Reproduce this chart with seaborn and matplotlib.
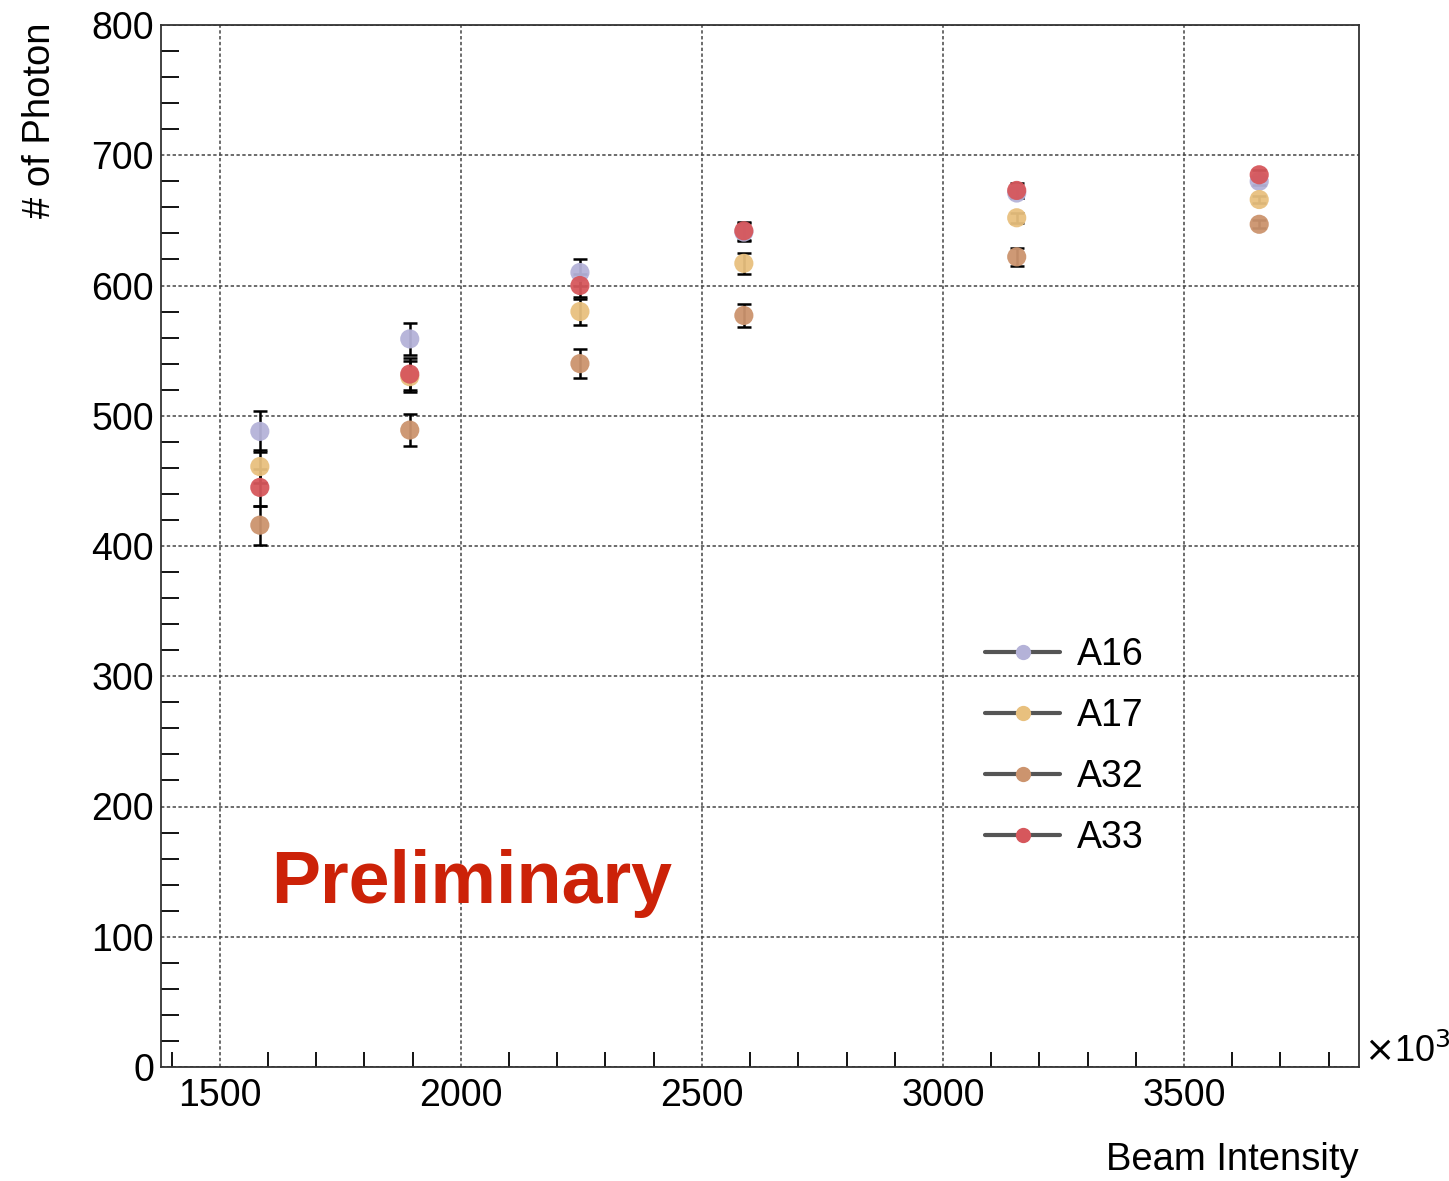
import numpy as np
import pandas as pd
import matplotlib
matplotlib.use("Agg")
import matplotlib.pyplot as plt
from matplotlib.lines import Line2D
from matplotlib.ticker import MultipleLocator
import seaborn as sns

# Beam intensity (x10^3) and mean photon counts per channel
intensity = [1583, 1894, 2247, 2587, 3153, 3656]
channels = ["A16", "A17", "A32", "A33"]
a16 = [488, 559, 610, 641, 671, 680]
a17 = [461, 530, 580, 617, 652, 666]
a32 = [416, 489, 540, 577, 622, 647]
a33 = [445, 532, 600, 642, 673, 685]
a16_err = [16, 12, 10, 7, 4, 3]
a17_err = [13, 12, 10, 8, 4, 3]
a32_err = [15, 12, 11, 9, 7, 3]
a33_err = [14, 12, 9, 7, 6, 4]

colors = {"A16": "#b4b2d8", "A17": "#e8c07e", "A32": "#cc946e", "A33": "#d6575c"}

values = {"A16": a16, "A17": a17, "A32": a32, "A33": a33}
errors = {"A16": a16_err, "A17": a17_err, "A32": a32_err, "A33": a33_err}
df = pd.DataFrame(
    [(x, ch, v, e) for ch in channels for x, v, e in zip(intensity, values[ch], errors[ch])],
    columns=["intensity", "channel", "photons", "err"],
)

sns.set_theme(style="white")
plt.rcParams["font.family"] = ["Liberation Sans", "DejaVu Sans"]
plt.rcParams["text.color"] = "black"

fig = plt.figure(figsize=(14.49, 11.81), dpi=100)
ax = fig.add_axes([161 / 1449, 1 - 1067 / 1181, (1359 - 161) / 1449, (1067 - 25) / 1181])

# error bars underneath markers
for ch in channels:
    sub = df[df.channel == ch]
    ax.errorbar(sub.intensity, sub.photons, yerr=sub.err, fmt="none",
                ecolor="black", elinewidth=1.8, capsize=5, capthick=1.8, zorder=2)

sns.scatterplot(data=df, x="intensity", y="photons", hue="channel", hue_order=channels,
                palette=colors, s=190, edgecolor="none", alpha=0.95, legend=False,
                ax=ax, zorder=3)

ax.set_xlim(1378, 3863)
ax.set_ylim(0, 800)
ax.xaxis.set_major_locator(MultipleLocator(500))
ax.xaxis.set_minor_locator(MultipleLocator(100))
ax.yaxis.set_major_locator(MultipleLocator(100))
ax.yaxis.set_minor_locator(MultipleLocator(20))

ax.grid(True, which="major", linestyle=(0, (2.2, 1.6)), color="#444444", linewidth=1.1)
ax.tick_params(axis="both", which="both", direction="in", labelsize=27, colors="black",
               top=False, right=False)
ax.tick_params(axis="y", which="major", length=25, width=1.3, pad=5)
ax.tick_params(axis="y", which="minor", length=13, width=1.3, left=True)
ax.tick_params(axis="x", which="major", length=22, width=1.3, pad=8)
ax.tick_params(axis="x", which="minor", length=11, width=1.3, bottom=True)
for s in ax.spines.values():
    s.set_color("#333333")
    s.set_linewidth(1.3)

ax.set_xlabel("")
ax.set_ylabel("")
fig.text(1359 / 1449, 1 - 1160 / 1181, "Beam Intensity", ha="right", va="center",
         fontsize=27.5, color="black")
fig.text(40 / 1449, 1 - 22 / 1181, "# of Photon", ha="center", va="top", rotation=90,
         fontsize=27.5, color="black")
fig.text(1364 / 1449, 1 - 1052 / 1181, r"$\times$10$^{3}$", ha="left", va="center",
         fontsize=26, color="black")

ax.text(0.092, 0.176, "Preliminary", transform=ax.transAxes, ha="left", va="center",
        fontsize=53, fontweight="bold", color="#cc2208")

handles = [Line2D([0], [0], color="#555555", linewidth=3, marker="o", markersize=11,
                  markerfacecolor=colors[ch], markeredgecolor="none") for ch in channels]
leg = ax.legend(handles, channels, loc="upper left",
                bbox_to_anchor=((985 - 161) / 1198, (1067 - 637) / 1042),
                frameon=False, fontsize=27, handlelength=2.0, handletextpad=0.45,
                labelspacing=0.67, borderpad=0, borderaxespad=0)
for t in leg.get_texts():
    t.set_color("black")

fig.savefig("out.png", dpi=100)
